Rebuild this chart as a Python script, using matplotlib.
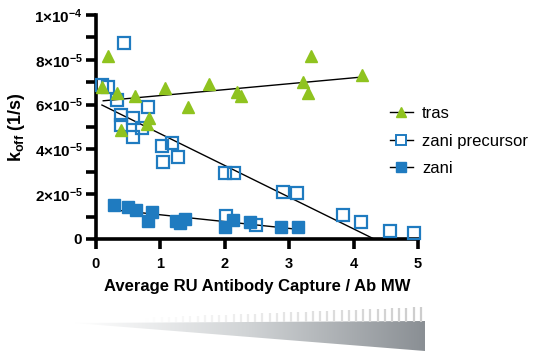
import numpy as np
import matplotlib
matplotlib.use('Agg')
import matplotlib.pyplot as plt
from matplotlib.ticker import FuncFormatter, MultipleLocator
from matplotlib.patches import Polygon

plt.rcParams['font.family'] = ['Liberation Sans', 'DejaVu Sans']
plt.rcParams['mathtext.fontset'] = 'custom'
plt.rcParams['mathtext.rm'] = 'Liberation Sans'
plt.rcParams['mathtext.bf'] = 'Liberation Sans:bold'
plt.rcParams['mathtext.it'] = 'Liberation Sans:italic'

# data (x = RU capture / MW, y = koff in 1/s)
tras_x = [0.10, 0.19, 0.34, 0.61, 1.07, 1.43, 1.76, 2.20, 2.26, 0.40, 0.83, 0.80, 3.34, 3.22, 3.30, 4.13]
tras_y = [6.77e-5, 8.17e-5, 6.53e-5, 6.38e-5, 6.73e-5, 5.90e-5, 6.90e-5, 6.55e-5, 6.40e-5,
          4.87e-5, 5.38e-5, 5.12e-5, 8.17e-5, 7.00e-5, 6.50e-5, 7.30e-5]

prec_x = [0.44, 0.10, 0.20, 0.34, 0.82, 0.39, 0.58, 0.39, 0.72, 0.58, 1.03, 1.18, 1.05, 1.28,
          2.00, 2.15, 2.91, 3.13, 3.84, 4.12, 4.57, 4.94, 2.49, 2.03]
prec_y = [8.74e-5, 6.87e-5, 6.80e-5, 6.20e-5, 5.88e-5, 5.54e-5, 5.38e-5, 5.09e-5, 4.94e-5, 4.54e-5,
          4.15e-5, 4.30e-5, 3.44e-5, 3.66e-5, 2.95e-5, 2.95e-5, 2.10e-5, 2.04e-5, 1.07e-5, 0.76e-5,
          0.36e-5, 0.27e-5, 0.63e-5, 1.03e-5]

zani_x = [0.29, 0.51, 0.63, 0.87, 0.82, 1.25, 1.38, 1.31, 2.01, 2.13, 2.39, 2.88, 3.14]
zani_y = [1.52e-5, 1.44e-5, 1.29e-5, 1.22e-5, 0.82e-5, 0.82e-5, 0.88e-5, 0.70e-5, 0.55e-5,
          0.85e-5, 0.77e-5, 0.55e-5, 0.55e-5]

# linear fit lines (endpoints)
tras_fit_x = [0.12, 4.13]
tras_fit_y = [6.17e-5, 7.23e-5]
prec_fit_x = [0.10, 4.94]
prec_fit_y = [5.98e-5, -0.88e-5]
zani_fit_x = [0.29, 3.14]
zani_fit_y = [1.30e-5, 0.43e-5]

x_ticks = [0, 1, 2, 3, 4, 5]
y_ticks = [0, 2e-5, 4e-5, 6e-5, 8e-5, 1e-4]

green = '#8fc31f'
blue = '#1f7bc0'

W, H = 537, 355
fig = plt.figure(figsize=(W / 100, H / 100), dpi=100)

# decorative gradient wedge under the x axis
bg = fig.add_axes([0, 0, 1, 1], zorder=0)
bg.set_xlim(0, W)
bg.set_ylim(H, 0)
bg.axis('off')
grad = np.linspace(0, 1, 256).reshape(1, -1)
cm = matplotlib.colors.LinearSegmentedColormap.from_list('w', ['#ffffff', '#d0d3d5', '#8a8f94'])
im = bg.imshow(grad, extent=[74, 425, 351, 321], cmap=cm, aspect='auto', interpolation='bilinear')
wedge = Polygon([[74, 323], [425, 321], [425, 351]], closed=True, transform=bg.transData)
im.set_clip_path(wedge)
for sx in np.arange(140, 425, 7.2):
    f = (sx - 140) / (425 - 140)
    top = 318 - 11 * f
    c = 1 - 0.2 * f
    bg.plot([sx, sx], [top, 322], color=(c, c, c), lw=1.6, solid_capstyle='butt')

ax = fig.add_axes([95.5 / W, 1 - 239 / H, (418 - 95.5) / W, (239 - 15) / H], zorder=1)
ax.patch.set_alpha(0)

ax.plot(tras_fit_x, tras_fit_y, color='black', lw=1.0, zorder=2)
ax.plot(prec_fit_x, prec_fit_y, color='black', lw=1.0, zorder=2)
ax.plot(zani_fit_x, zani_fit_y, color='black', lw=1.0, zorder=2)

ax.plot(prec_x, prec_y, ls='none', marker='s', ms=8, mfc='none', mec=blue, mew=1.6, zorder=3, clip_on=False)
ax.plot(zani_x, zani_y, ls='none', marker='s', ms=8.5, color=blue, zorder=4, clip_on=False)
ax.plot(tras_x, tras_y, ls='none', marker='^', ms=9, color=green, zorder=5, clip_on=False)

# legend handles with line + marker
h1, = ax.plot([], [], color='black', lw=1.0, marker='^', ms=7.5, mfc=green, mec=green)
h2, = ax.plot([], [], color='black', lw=1.0, marker='s', ms=6.5, mfc='white', mec=blue, mew=1.4)
h3, = ax.plot([], [], color='black', lw=1.0, marker='s', ms=7.5, mfc=blue, mec=blue)
ax.legend([h1, h2, h3], ['tras', 'zani precursor', 'zani'], loc='upper left',
          bbox_to_anchor=(0.912, 0.593), frameon=False, fontsize=12, handlelength=1.4,
          handletextpad=0.55, labelspacing=0.74, borderaxespad=0, borderpad=0)

ax.set_xlim(0, 5)
ax.set_ylim(0, 1e-4)
ax.set_xticks(x_ticks)
ax.set_yticks(y_ticks)
ax.yaxis.set_minor_locator(MultipleLocator(1e-5))


def yfmt(v, pos):
    if v == 0:
        return r'$\mathbf{0}$'
    m, e = ('%.0e' % v).split('e')
    return r'$\mathbf{%s{\times}10^{%d}}$' % (m, int(e))


ax.yaxis.set_major_formatter(FuncFormatter(yfmt))
for s in ['top', 'right']:
    ax.spines[s].set_visible(False)
for s in ['left', 'bottom']:
    ax.spines[s].set_linewidth(2.6)
ax.tick_params(axis='both', which='major', width=2.6, length=7, labelsize=10.5, pad=6)
ax.tick_params(axis='y', which='minor', width=2.6, length=7)
ax.tick_params(axis='y', which='major', labelsize=11, pad=2)
for lab in ax.get_xticklabels():
    lab.set_fontweight('bold')

ax.set_xlabel('Average RU Antibody Capture / Ab MW', fontsize=12, fontweight='bold', labelpad=6)
ax.set_ylabel(r'$\mathbf{k_{off}}$ (1/s)', fontsize=13, fontweight='bold', labelpad=5)

fig.savefig('out.png', dpi=100)
